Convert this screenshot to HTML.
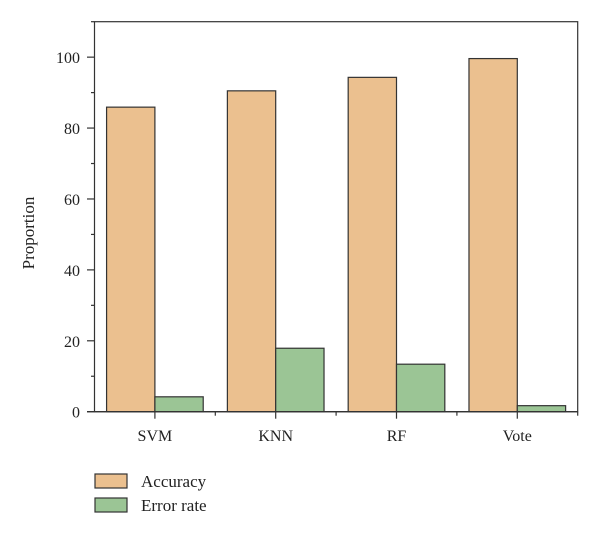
<!DOCTYPE html>
<html><head><meta charset="utf-8"><style>
body{margin:0;background:#fff;}
svg text{font-family:"Liberation Serif",serif;fill:#222;}
</style></head><body>
<svg width="600" height="535">
<g id="chart"></g>
</svg>
<script>
const categories=["SVM","KNN","RF","Vote"];
const accuracy=[85.9,90.5,94.3,99.6];
const errorRate=[4.2,17.9,13.4,1.7];
const yTicks=[0,20,40,60,80,100];
const L=94.5,R=577.7,T=21.7,B=411.7,yMax=110;
const ns="http://www.w3.org/2000/svg";
const g=document.getElementById('chart');
const y=v=>B-(v/yMax)*(B-T);
const band=(R-L)/categories.length;
const cx=i=>L+band*(i+0.5);
const bw=band*0.4;
function mk(tag,attrs,parent){const e=document.createElementNS(ns,tag);for(const k in attrs)e.setAttribute(k,attrs[k]);(parent||g).appendChild(e);return e;}
// bars
categories.forEach((c,i)=>{
 const a=mk('rect',{x:cx(i)-bw,y:y(accuracy[i]),width:bw,height:B-y(accuracy[i]),fill:'#EBC08F',stroke:'#333','stroke-width':1.2});
 
 
 const e=mk('rect',{x:cx(i),y:y(errorRate[i]),width:bw,height:B-y(errorRate[i]),fill:'#9BC595',stroke:'#333','stroke-width':1.2});
 
 
 const t=mk('text',{x:cx(i),y:441,'text-anchor':'middle','font-size':16});
 t.textContent=c;
 
 
 mk('line',{x1:cx(i),x2:cx(i),y1:B,y2:B+7,stroke:'#333','stroke-width':1.2});
});
for(let i=1;i<categories.length;i++)mk('line',{x1:L+band*i,x2:L+band*i,y1:B,y2:B+4,stroke:'#333','stroke-width':1.2});
mk('line',{x1:R,x2:R,y1:B,y2:B+4,stroke:'#333','stroke-width':1.2});
// frame
const fr=mk('rect',{x:L,y:T,width:R-L,height:B-T,fill:'none',stroke:'#333','stroke-width':1.2});


mk('line',{x1:87,x2:R,y1:B,y2:B,stroke:'#333','stroke-width':1.4});
// y ticks
yTicks.forEach(v=>{
 mk('line',{x1:87,x2:L,y1:y(v),y2:y(v),stroke:'#333','stroke-width':1.2});
 mk('line',{x1:91,x2:L,y1:y(v+10),y2:y(v+10),stroke:'#333','stroke-width':1.2});
 const t=mk('text',{x:80,y:y(v)+6,'text-anchor':'end','font-size':16});
 t.textContent=v;
 
 
});
const yt=mk('text',{x:0,y:0,'text-anchor':'middle','font-size':17,transform:'translate(34,233) rotate(-90)'});
yt.textContent='Proportion';


// legend
const leg=[["Accuracy","#EBC08F",474],["Error rate","#9BC595",498]];
leg.forEach(l=>{
 const r=mk('rect',{x:95,y:l[2],width:32,height:14,fill:l[1],stroke:'#333','stroke-width':1.2});
 
 
 const t=mk('text',{x:141,y:l[2]+13,'font-size':17});
 t.textContent=l[0];
 
 
});
</script>
</body></html>
